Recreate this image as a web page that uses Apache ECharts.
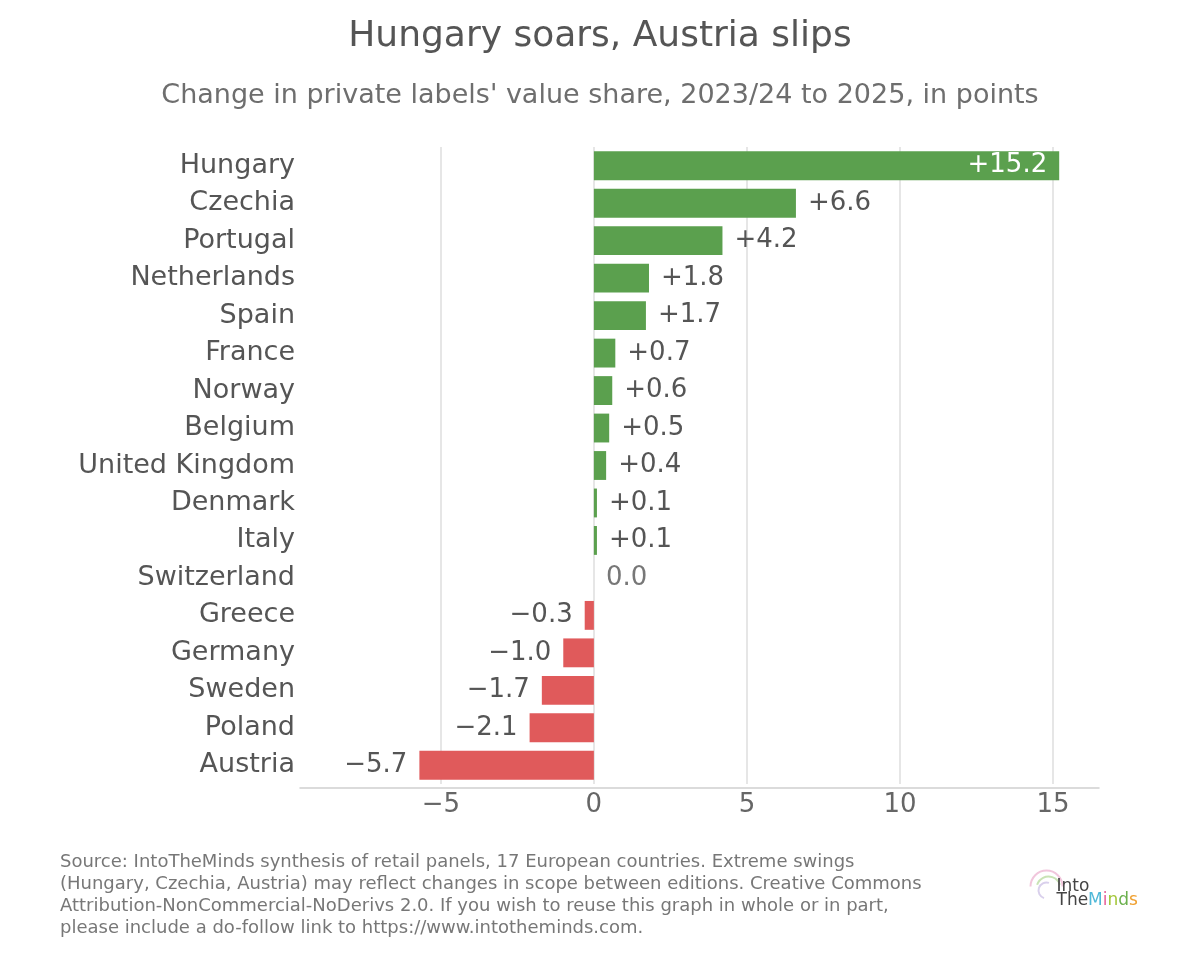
<!DOCTYPE html>
<html>
<head>
<meta charset="utf-8">
<title>Hungary soars, Austria slips</title>
<script src="https://cdn.jsdelivr.net/npm/echarts@6/dist/echarts.min.js"></script>
<style>
  html, body { margin: 0; padding: 0; background: #fff; }
  #chart { width: 1200px; height: 955px; }
</style>
</head>
<body>
<div id="chart"></div>
<script>
// countries, top to bottom
var countries = [
  'Hungary', 'Czechia', 'Portugal', 'Netherlands', 'Spain', 'France', 'Norway',
  'Belgium', 'United Kingdom', 'Denmark', 'Italy', 'Switzerland', 'Greece',
  'Germany', 'Sweden', 'Poland', 'Austria'
];
// change in points
var changes = [15.2, 6.6, 4.2, 1.8, 1.7, 0.7, 0.6, 0.5, 0.4, 0.1, 0.1, 0.0, -0.3, -1.0, -1.7, -2.1, -5.7];
var xTicks = [-5, 0, 5, 10, 15];

var FONT = '"DejaVu Sans", sans-serif';
var GREEN = '#5ba04e';
var RED = '#e05a5b';

var sourceLines = [
  'Source: IntoTheMinds synthesis of retail panels, 17 European countries. Extreme swings',
  '(Hungary, Czechia, Austria) may reflect changes in scope between editions. Creative Commons',
  'Attribution-NonCommercial-NoDerivs 2.0. If you wish to reuse this graph in whole or in part,',
  'please include a do-follow link to https://www.intotheminds.com.'
];

function fmt(v) {
  if (v > 0) return '+' + v.toFixed(1);
  if (v < 0) return '\u2212' + Math.abs(v).toFixed(1);
  return '0.0';
}

// build bar items (colour + label side depends on sign)
var barData = changes.map(function (v, i) {
  var lab = { position: 'right', distance: 12, color: '#555' };
  if (v < 0) lab = { position: 'left', distance: 12, color: '#555' };
  if (v === 0) lab = { position: 'right', distance: 12, color: '#777' };
  if (v > 12) lab = { position: 'insideRight', distance: 12, color: '#fff' };
  return {
    value: v,
    itemStyle: { color: v < 0 ? RED : GREEN },
    label: lab
  };
});

var chart = echarts.init(document.getElementById('chart'));
chart.setOption({
  backgroundColor: '#fff',
  animation: false,
  textStyle: { fontFamily: FONT },
  title: [
    {
      text: 'Hungary soars, Austria slips',
      left: 'center', top: 14,
      textStyle: { fontFamily: FONT, fontSize: 36, fontWeight: 'normal', color: '#555' }
    },
    {
      text: "Change in private labels' value share, 2023/24 to 2025, in points",
      left: 'center', top: 77,
      textStyle: { fontFamily: FONT, fontSize: 27, fontWeight: 'normal', color: '#6e6e6e' }
    }
  ],
  grid: { left: 300, right: 101, top: 147, bottom: 171, containLabel: false },
  xAxis: {
    type: 'value',
    min: -9.6,
    max: 16.5,
    offset: 4,
    axisLine: { show: true, lineStyle: { color: '#cfcfcf', width: 1.5 } },
    axisTick: { show: false, customValues: xTicks },
    axisLabel: {
      customValues: xTicks,
      fontFamily: FONT, fontSize: 26, color: '#666', margin: 4,
      formatter: function (v) { return v < 0 ? '\u2212' + Math.abs(v) : String(v); }
    },
    splitLine: { show: true, lineStyle: { color: '#dedede', width: 1.5 } }
  },
  yAxis: {
    type: 'category',
    data: countries,
    inverse: true,
    axisLine: { show: false, onZero: false },
    axisTick: { show: false },
    axisLabel: { fontFamily: FONT, fontSize: 27, color: '#555', margin: 5 },
    splitLine: { show: false }
  },
  series: [{
    type: 'bar',
    data: barData,
    barWidth: '77%',
    label: {
      show: true,
      fontFamily: FONT,
      fontSize: 26,
      formatter: function (p) { return fmt(p.value); }
    }
  }],
  graphic: [
    {
      type: 'text',
      left: 60, top: 851,
      style: {
        text: sourceLines.join('\n'),
        fontFamily: FONT, fontSize: 18, lineHeight: 22, fill: '#777'
      }
    },
    {
      type: 'group',
      left: 1028, top: 868,
      children: [
        { type: 'arc', shape: { cx: 22, cy: 18, r: 16, startAngle: Math.PI, endAngle: 2 * Math.PI },
          style: { stroke: '#f1c6dc', lineWidth: 2, fill: null } },
        { type: 'arc', shape: { cx: 24, cy: 20, r: 12, startAngle: Math.PI * 1.1, endAngle: Math.PI * 1.9 },
          style: { stroke: '#c9e3b5', lineWidth: 2, fill: null } },
        { type: 'arc', shape: { cx: 22, cy: 22, r: 8, startAngle: Math.PI * 0.6, endAngle: Math.PI * 1.6 },
          style: { stroke: '#d9d0ec', lineWidth: 2, fill: null } },
        {
          type: 'text', x: 32, y: 10,
          style: { text: 'Into', fontFamily: FONT, fontSize: 17, fill: '#444' }
        },
        {
          type: 'text', x: 32, y: 24,
          style: {
            text: '{a|The}{m|M}{i|i}{n|n}{d|d}{s|s}',
            fontFamily: FONT, fontSize: 17, fill: '#444',
            rich: {
              a: { fontFamily: FONT, fontSize: 17, fill: '#444' },
              m: { fontFamily: FONT, fontSize: 17, fill: '#4fb8d8' },
              i: { fontFamily: FONT, fontSize: 17, fill: '#e8609a' },
              n: { fontFamily: FONT, fontSize: 17, fill: '#a4c639' },
              d: { fontFamily: FONT, fontSize: 17, fill: '#6ab04c' },
              s: { fontFamily: FONT, fontSize: 17, fill: '#f0a030' }
            }
          }
        }
      ]
    }
  ]
});
</script>
</body>
</html>
